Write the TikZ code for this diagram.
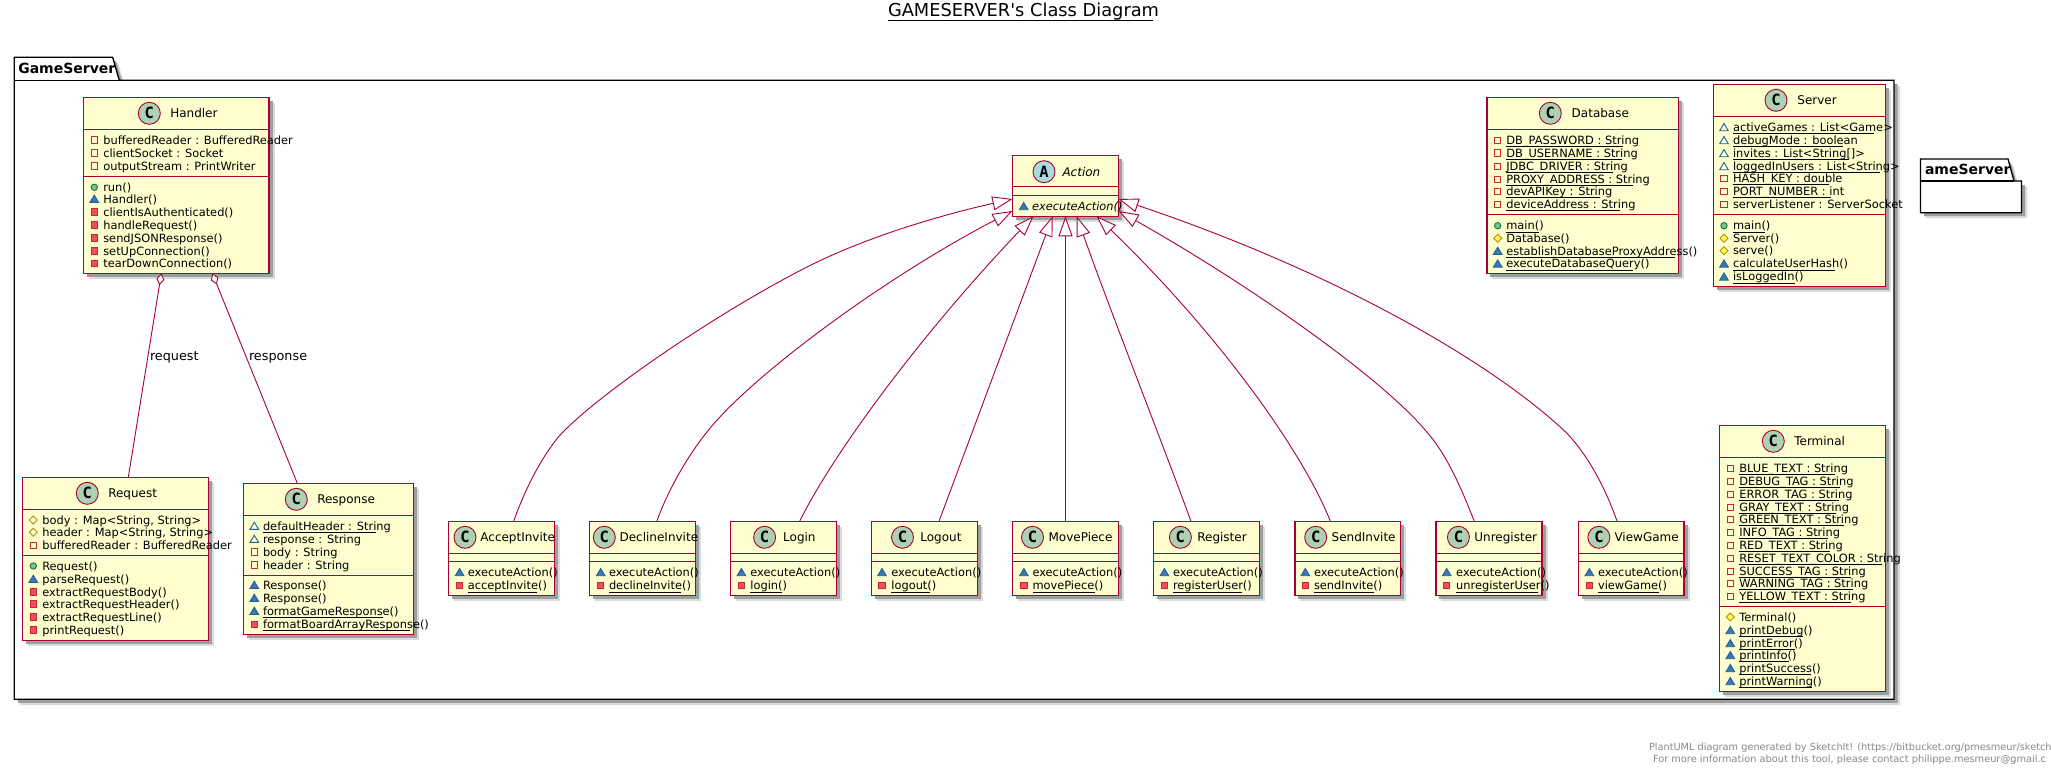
\documentclass[tikz,border=0pt]{standalone}
\usepackage{fontspec}
\setmainfont{DejaVu Sans}
\newfontfamily\letterfont{DejaVu Sans Mono}
\newfontfamily\plainfont{DejaVu Sans}
\usetikzlibrary{arrows.meta}
\definecolor{umlline}{HTML}{A80036}
\definecolor{umlfill}{HTML}{FEFECE}
\definecolor{circC}{HTML}{ADD1B2}
\definecolor{circA}{HTML}{A9DCDF}
\definecolor{privline}{HTML}{C82930}
\definecolor{privfill}{HTML}{F24D5C}
\definecolor{packline}{HTML}{1963A0}
\definecolor{packfill}{HTML}{4177AF}
\definecolor{publine}{HTML}{038048}
\definecolor{pubfill}{HTML}{84BE84}
\definecolor{protline}{HTML}{B38D22}
\definecolor{protfill}{HTML}{FFFF44}
\definecolor{footgray}{HTML}{888888}
\newcommand\memfont{\fontsize{11.4}{13}\selectfont}
\newcommand\headfont{\fontsize{12}{14}\selectfont}
\newcounter{txtn}
\newdimen\rowwd
\tikzset{
  classbox/.style={draw=umlline,fill=umlfill,line width=1.4pt,rectangle,inner sep=0pt,outer sep=0pt,anchor=north west},
  divider/.style={draw=umlline,line width=1.3pt},
  gen/.style={draw=umlline,line width=.9pt,-{Triangle[length=20pt,width=14pt,fill=white,line width=.9pt]}},
  agg/.style={draw=umlline,line width=.9pt,{Diamond[length=12pt,width=8pt,fill=white,line width=.9pt]}-},
  txt/.style={anchor=base west,inner sep=0pt,outer sep=0pt,text=black},
  pack/.style={draw=black,fill=white,line width=1.3pt,line join=miter},
}
\newcommand\icfpriv[2]{\draw[privline,line width=.9pt] (#1-3.2,#2-3.2) rectangle (#1+3.2,#2+3.2);}
\newcommand\icmpriv[2]{\draw[privline,fill=privfill,line width=.9pt] (#1-3.2,#2-3.2) rectangle (#1+3.2,#2+3.2);}
\newcommand\icfpack[2]{\draw[packline,line width=.9pt] (#1-4.3,#2+3.4)--(#1+4.3,#2+3.4)--(#1,#2-3.8)--cycle;}
\newcommand\icmpack[2]{\draw[packline,fill=packfill,line width=.9pt] (#1-4.3,#2+3.4)--(#1+4.3,#2+3.4)--(#1,#2-3.8)--cycle;}
\newcommand\icmpub[2]{\draw[publine,fill=pubfill,line width=.9pt] (#1,#2) circle[radius=3.2];}
\newcommand\icfprot[2]{\draw[protline,line width=.9pt] (#1-4,#2)--(#1,#2-4)--(#1+4,#2)--(#1,#2+4)--cycle;}
\newcommand\icmprot[2]{\draw[protline,fill=protfill,line width=.9pt] (#1-4,#2)--(#1,#2-4)--(#1+4,#2)--(#1,#2+4)--cycle;}
% id x1 y1 x2 y2 div1 div2
\newcommand\classbox[7]{%
  \fill[black!14] (#2+5.5,#3+5.5) rectangle (#4+5.5,#5+5.5);
  \fill[black!38] (#2+3.5,#3+3.5) rectangle (#4+3.5,#5+3.5);
  \pgfmathsetmacro\bw{#4-#2}\pgfmathsetmacro\bh{#5-#3}
  \node[classbox,minimum width=\bw pt,minimum height=\bh pt] (#1) at (#2,#3) {};
  \draw[divider] (#2,#6)--(#4,#6);
  \draw[divider] (#2,#7)--(#4,#7);
}
% cx cy titlex title letter colour
\newcommand\classhead[6]{%
  \stepcounter{txtn}
  \draw[draw=umlline,fill=#6,line width=.9pt] (#1,#2) circle[radius=11];
  \node[inner sep=0pt,outer sep=0pt,text=black] (let\arabic{txtn}) at (#1,#2) {\letterfont\bfseries\fontsize{15.5}{16}\selectfont #5};
  \node[txt] (ttl\arabic{txtn}) at (#3,#2+4.3) {\headfont #4};
}
\newcommand\setcols[2]{\def\colI{#1}\def\colT{#2}}
\newcommand\mrow[3]{%
  \stepcounter{txtn}
  \csname ic#2\endcsname{\colI}{#1}
  \node[txt] (row\arabic{txtn}) at (\colT,#1+4) {\memfont\setbox0\hbox{#3}\global\rowwd=\wd0 \box0};
}
\newcommand\urow[3]{%
  \mrow{#1}{#2}{#3}
  \pgfmathsetmacro\ulw{0.89*\the\rowwd-1}
  \draw[black,line width=.8pt] (\colT,#1+6.2)--(\colT+\ulw,#1+6.2);
}
% id x1 x2 cx titlex title iconx textx method
\newcommand\actionclass[9]{%
  \classbox{#1}{#2}{521.3}{#3}{595.7}{553.3}{561.7}
  \classhead{#4}{537.3}{#5}{#6}{C}{circC}
  \setcols{#7}{#8}
  \mrow{572.3}{mpack}{executeAction()}
  \urow{585.7}{mpriv}{#9}
}
\begin{document}
\begin{tikzpicture}[x=1pt,y=-1pt]
\useasboundingbox (0,0) rectangle (2051,774);
\fill[white] (0,0) rectangle (2051,774);
% title
\node[txt] (diagramtitle) at (888,16.7) {\plainfont\fontsize{17.8}{20}\selectfont GAMESERVER's Class Diagram};
\draw[black,line width=.9pt] (888,20)--(1152.7,20);
% package GameServer
\fill[black!14] (20,63)--(118,63)--(125,86)--(1900,86)--(1900,705)--(20,705)--cycle;
\fill[black!38] (18,61)--(116,61)--(123,84)--(1897.5,84)--(1897.5,702.8)--(18,702.8)--cycle;
\draw[pack] (14.3,80.3)--(14.3,57.3)--(112.7,57.3)--(119.3,80.3)--(1894,80.3)--(1894,699.3)--(14.3,699.3)--cycle;
\draw[black,line width=1.3pt] (14.3,80.3)--(119.3,80.3);
\node[txt] (pkgone) at (18.3,73) {\fontsize{14}{16}\selectfont\bfseries GameServer};
% package ameServer
\fill[black!14] (1926,165)--(2013,165)--(2019,187)--(2027,187)--(2027,218)--(1926,218)--cycle;
\fill[black!38] (1924,163)--(2011,163)--(2017,185)--(2025,185)--(2025,216)--(1924,216)--cycle;
\draw[pack] (1920.5,181)--(1920.5,159)--(2008,159)--(2014,181)--(2021.4,181)--(2021.4,212.7)--(1920.5,212.7)--cycle;
\draw[black,line width=1.3pt] (1920.5,181)--(2014,181);
\node[txt] (pkgtwo) at (1925,174) {\fontsize{14}{16}\selectfont\bfseries ameServer};
% Handler
\classbox{handler}{83.7}{97.7}{269}{273.3}{129.3}{176.3}
\classhead{149.3}{113.3}{170.3}{Handler}{C}{circC}
\setcols{94.3}{103.3}
\mrow{140}{fpriv}{bufferedReader : BufferedReader}
\mrow{153}{fpriv}{clientSocket : Socket}
\mrow{166}{fpriv}{outputStream : PrintWriter}
\mrow{187.3}{mpub}{run()}
\mrow{199}{mpack}{Handler()}
\mrow{212}{mpriv}{clientIsAuthenticated()}
\mrow{225}{mpriv}{handleRequest()}
\mrow{238}{mpriv}{sendJSONResponse()}
\mrow{251}{mpriv}{setUpConnection()}
\mrow{263.3}{mpriv}{tearDownConnection()}
% Request
\classbox{request}{22.5}{477.3}{208.5}{640.3}{509.3}{555.3}
\classhead{87.3}{493.3}{108.3}{Request}{C}{circC}
\setcols{33.3}{42.3}
\mrow{520}{fprot}{body : Map<String, String>}
\mrow{532.3}{fprot}{header : Map<String, String>}
\mrow{545.3}{fpriv}{bufferedReader : BufferedReader}
\mrow{566}{mpub}{Request()}
\mrow{579}{mpack}{parseRequest()}
\mrow{592}{mpriv}{extractRequestBody()}
\mrow{604}{mpriv}{extractRequestHeader()}
\mrow{617}{mpriv}{extractRequestLine()}
\mrow{630}{mpriv}{printRequest()}
% Response
\classbox{response}{243.7}{483.3}{413.3}{634.3}{515.3}{575.7}
\classhead{296.3}{499.3}{317.3}{Response}{C}{circC}
\setcols{254.3}{263}
\urow{526}{fpack}{defaultHeader : String}
\mrow{539}{fpack}{response : String}
\mrow{552}{fpriv}{body : String}
\mrow{565}{fpriv}{header : String}
\mrow{585}{mpack}{Response()}
\mrow{598}{mpack}{Response()}
\urow{611}{mpack}{formatGameResponse()}
\urow{624.3}{mpriv}{formatBoardArrayResponse()}
% Action
\classbox{action}{1012.4}{155.3}{1118.6}{216.3}{186.7}{195.7}
\classhead{1044}{171.7}{1062.5}{\itshape Action}{A}{circA}
\setcols{1023.7}{1032}
\mrow{206.3}{mpack}{\itshape executeAction()}
% Database
\classbox{database}{1486.8}{97.3}{1678.5}{273.3}{129.3}{214.3}
\classhead{1550.3}{113.3}{1571.7}{Database}{C}{circC}
\setcols{1497.7}{1506.3}
\urow{140.3}{fpriv}{DB\_PASSWORD : String}
\urow{153}{fpriv}{DB\_USERNAME : String}
\urow{166.3}{fpriv}{JDBC\_DRIVER : String}
\urow{179.3}{fpriv}{PROXY\_ADDRESS : String}
\urow{191.3}{fpriv}{devAPIKey : String}
\urow{204.3}{fpriv}{deviceAddress : String}
\urow{225.7}{mpub}{main()}
\mrow{238.3}{mprot}{Database()}
\urow{251}{mpack}{establishDatabaseProxyAddress()}
\urow{263.7}{mpack}{executeDatabaseQuery()}
% Server
\classbox{server}{1713.6}{84.3}{1885.4}{286.3}{116.3}{214.3}
\classhead{1776}{100.3}{1797.4}{Server}{C}{circC}
\setcols{1724}{1733}
\urow{127.3}{fpack}{activeGames : List<Game>}
\urow{140.3}{fpack}{debugMode : boolean}
\urow{153.3}{fpack}{invites : List<String[]>}
\urow{166.3}{fpack}{loggedInUsers : List<String>}
\urow{178.3}{fpriv}{HASH\_KEY : double}
\urow{191.3}{fpriv}{PORT\_NUMBER : int}
\mrow{204.3}{fpriv}{serverListener : ServerSocket}
\urow{225.7}{mpub}{main()}
\mrow{238.3}{mprot}{Server()}
\mrow{250.7}{mprot}{serve()}
\urow{263.7}{mpack}{calculateUserHash()}
\urow{276.7}{mpack}{isLoggedIn()}
% Terminal
\classbox{terminal}{1719.3}{425.3}{1885.3}{691.7}{457.3}{606.3}
\classhead{1773.3}{441.3}{1794.3}{Terminal}{C}{circC}
\setcols{1730.3}{1739.3}
\urow{468.3}{fpriv}{BLUE\_TEXT : String}
\urow{481.3}{fpriv}{DEBUG\_TAG : String}
\urow{494.3}{fpriv}{ERROR\_TAG : String}
\urow{507.3}{fpriv}{GRAY\_TEXT : String}
\urow{519.3}{fpriv}{GREEN\_TEXT : String}
\urow{532.3}{fpriv}{INFO\_TAG : String}
\urow{545.3}{fpriv}{RED\_TEXT : String}
\urow{558.3}{fpriv}{RESET\_TEXT\_COLOR : String}
\urow{571.3}{fpriv}{SUCCESS\_TAG : String}
\urow{583.3}{fpriv}{WARNING\_TAG : String}
\urow{596.3}{fpriv}{YELLOW\_TEXT : String}
\mrow{617}{mprot}{Terminal()}
\urow{630.3}{mpack}{printDebug()}
\urow{643.3}{mpack}{printError()}
\urow{655.3}{mpack}{printInfo()}
\urow{668.3}{mpack}{printSuccess()}
\urow{681.3}{mpack}{printWarning()}
% action subclasses
\actionclass{acceptinvite}{448.2}{554.3}{465}{480.4}{AcceptInvite}{459.6}{467.9}{acceptInvite()}
\actionclass{declineinvite}{589.3}{695.7}{604.3}{619.6}{DeclineInvite}{600.7}{609}{declineInvite()}
\actionclass{login}{730.4}{836.4}{764.6}{783.2}{Login}{741.4}{750.4}{login()}
\actionclass{logout}{871.4}{977.5}{902.5}{920.4}{Logout}{882}{891.4}{logout()}
\actionclass{movepiece}{1012.4}{1118.6}{1032.5}{1048.6}{MovePiece}{1023.9}{1032.5}{movePiece()}
\actionclass{register}{1153.5}{1259.3}{1180.4}{1197.3}{Register}{1164.4}{1173}{registerUser()}
\actionclass{sendinvite}{1294.9}{1400.3}{1315.7}{1331.7}{SendInvite}{1305.3}{1314}{sendInvite()}
\actionclass{unregister}{1435.8}{1542}{1458.4}{1474.4}{Unregister}{1446.7}{1456.2}{unregisterUser()}
\actionclass{viewgame}{1578.5}{1684}{1598.9}{1614.5}{ViewGame}{1589.3}{1598}{viewGame()}
% aggregations
\draw[agg] ([xshift=-15pt]handler.south) -- ([xshift=12.8pt]request.north);
\draw[agg] ([xshift=36pt]handler.south) -- ([xshift=-31.2pt]response.north);
\node[txt] (lblrequest) at (150,360.7) {\fontsize{12.8}{15}\selectfont request};
\node[txt] (lblresponse) at (249,360.7) {\fontsize{12.8}{15}\selectfont response};
% generalisations
\draw[gen] ([xshift=12.35pt]acceptinvite.north) .. controls (523,495) and (538,462) .. (558.6,436.7)
  .. controls (604,387) and (757,287) .. (837,253)
  .. controls (890,230) and (950,213) .. ([yshift=-13.2pt]action.west);
\draw[gen] ([xshift=14.3pt]declineinvite.north) .. controls (668,490) and (688,455) .. (708.6,430)
  .. controls (750,378) and (880,280) .. ([yshift=-25.2pt]action.west);
\draw[gen] ([xshift=16.2pt]login.north) .. controls (835,450) and (925,330) .. ([xshift=-32.1pt]action.south);
\draw[gen] ([xshift=14.55pt]logout.north) -- ([xshift=-12.8pt]action.south);
\draw[gen] (movepiece.north) -- (action.south);
\draw[gen] ([xshift=-15.4pt]register.north) .. controls (1165,450) and (1110,310) .. ([xshift=11.2pt]action.south);
\draw[gen] ([xshift=-17.2pt]sendinvite.north) .. controls (1300,445) and (1210,325) .. ([xshift=31.1pt]action.south);
\draw[gen] ([xshift=-14.6pt]unregister.north) .. controls (1462,490) and (1447,455) .. (1427.9,433.3)
  .. controls (1385,380) and (1250,285) .. ([yshift=-25.2pt]action.east);
\draw[gen] ([xshift=-14.15pt]viewgame.north) .. controls (1606,490) and (1590,458) .. (1567,433.3)
  .. controls (1490,360) and (1330,270) .. ([yshift=-13.2pt]action.east);
% footer
\node[txt,text=footgray] (footone) at (1649,750) {\fontsize{9.75}{12}\selectfont PlantUML diagram generated by SketchIt! (https://bitbucket.org/pmesmeur/sketch};
\node[txt,text=footgray] (foottwo) at (1653,762) {\fontsize{9.8}{12}\selectfont For more information about this tool, please contact philippe.mesmeur@gmail.c};
\end{tikzpicture}
\end{document}
